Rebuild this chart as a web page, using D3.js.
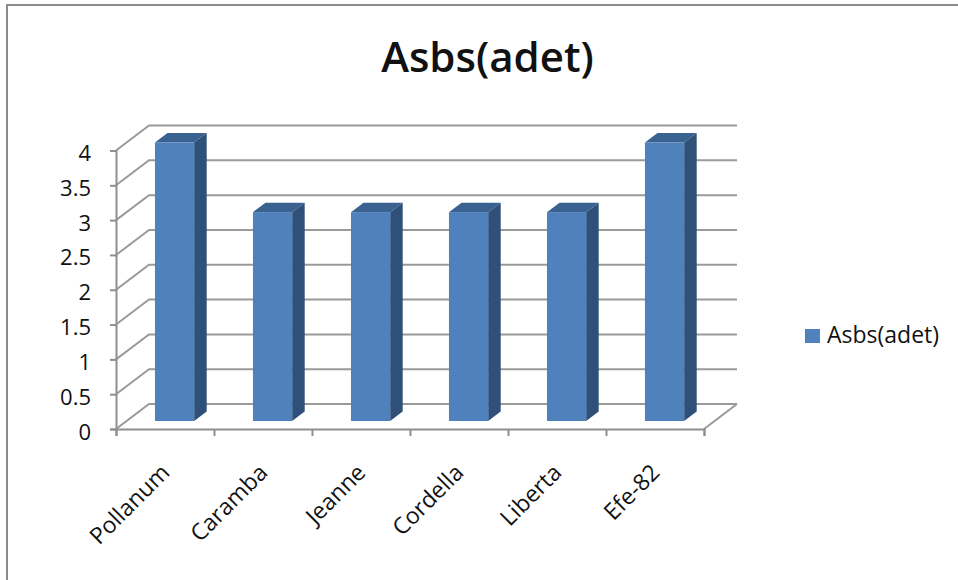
<!DOCTYPE html>
<html>
<head>
<meta charset="utf-8">
<style>
html,body{margin:0;padding:0;background:#fff;}
svg{display:block;}
text{font-family:"Open Sans",Lato,sans-serif;fill:#111;}
</style>
<script src="https://cdn.jsdelivr.net/npm/d3@7/dist/d3.min.js"></script>
</head>
<body>
<svg id="chart" width="958" height="580"></svg>
<script>
const chartTitle = "Asbs(adet)";
const seriesName = "Asbs(adet)";
const categories = ["Pollanum", "Caramba", "Jeanne", "Cordella", "Liberta", "Efe-82"];
const values = [4, 3, 3, 3, 3, 4];
const yTicks = [0, 0.5, 1, 1.5, 2, 2.5, 3, 3.5, 4];

const svg = d3.select("#chart");
const gridColor = "#9a9a9a";
const axisColor = "#8f8f8f";

// Category and value scales on the front plane of the 3D box
const x = d3.scaleBand().domain(categories).range([116, 704]);
const y = d3.scaleLinear().domain([0, 4]).range([429, 150.5]);
// Oblique projection: depth 0 is the front plane, depth 1 is the back wall
const depthX = d3.scaleLinear().domain([0, 1]).range([0, 33]);
const depthY = d3.scaleLinear().domain([0, 1]).range([0, -25]);
const project = (px, py, d) => [px + depthX(d), py + depthY(d)];
const path = pts => d3.line()(pts) + "Z";

// Outer chart frame
svg.append("path")
  .attr("d", "M7,580V5H958")
  .attr("fill", "none")
  .attr("stroke", "#8c8c8c")
  .attr("stroke-width", 2);

// Chart title
svg.append("text")
  .attr("x", 487.5).attr("y", 72)
  .attr("text-anchor", "middle")
  .attr("font-size", 42).attr("font-weight", 600)
  .text(chartTitle);

// Gridlines: slanted on the side wall, horizontal across the back wall
const walls = svg.append("g")
  .attr("fill", "none")
  .attr("stroke", gridColor)
  .attr("stroke-width", 2);
yTicks.forEach(t => {
  const [x0, x1] = x.range();
  walls.append("path").attr("d", d3.line()([
    project(x0, y(t), 0), project(x0, y(t), 1), project(x1, y(t), 1)
  ]));
});
// Floor edges
walls.append("path").attr("d", d3.line()([
  project(x.range()[1], y(0), 1), project(x.range()[1], y(0), 0)
]));

// Value axis
const yAxis = svg.append("g")
  .attr("transform", `translate(${x.range()[0]},0)`)
  .call(d3.axisLeft(y).tickValues(yTicks).tickSize(6).tickPadding(19).tickFormat(d3.format("~g")));
yAxis.select(".domain").attr("stroke", axisColor).attr("stroke-width", 2);
yAxis.selectAll(".tick line").attr("stroke", axisColor).attr("stroke-width", 2);
yAxis.selectAll(".tick text")
  .attr("font-size", 22)
  .attr("font-family", "'Open Sans',Lato,sans-serif")
  .attr("fill", "#111")
  .attr("y", 3);

// Category axis, with ticks on the category boundaries
const boundaries = categories.map(c => x(c)).concat(x.range()[1]);
const tickScale = d3.scaleLinear().domain(x.range()).range(x.range());
const xAxis = svg.append("g").attr("transform", `translate(0,${y(0)})`)
  .call(d3.axisBottom(tickScale).tickValues(boundaries).tickSize(7).tickFormat(""));
xAxis.select(".domain").attr("stroke", axisColor).attr("stroke-width", 2);
xAxis.selectAll(".tick line").attr("stroke", axisColor).attr("stroke-width", 2);

// Rotated category labels
svg.append("g").selectAll("text").data(categories).join("text")
  .attr("text-anchor", "end")
  .attr("font-size", 23)
  .attr("transform", d => `translate(${x(d) + x.bandwidth() / 2 + 6},${y(0) + 45}) rotate(-45)`)
  .text(d => d);

// Bars: three visible faces each
const frontDepth = 0.32, backDepth = 0.70, faceInset = 0.3;
const barGroups = svg.append("g").selectAll("g").data(categories).join("g");
barGroups.each(function (c, i) {
  const g = d3.select(this);
  const left = x(c) + x.bandwidth() * faceInset - 1;
  const right = x(c) + x.bandwidth() * (1 - faceInset) - 1;
  const base = y(0), top = y(values[i]);
  const f = (px, py) => project(px, py, frontDepth);
  const b = (px, py) => project(px, py, backDepth);
  g.append("path").attr("d", path([f(left, top), b(left, top), b(right, top), f(right, top)]))
    .attr("fill", "#3a6290");
  g.append("path").attr("d", path([f(right, base), f(right, top), b(right, top), b(right, base)]))
    .attr("fill", "#2f5179");
  const [fx0, fy0] = f(left, top);
  const [fx1, fy1] = f(right, base);
  g.append("rect").attr("x", fx0).attr("y", fy0).attr("width", fx1 - fx0).attr("height", fy1 - fy0)
    .attr("fill", "#4f81bd");
});

// Legend
const legend = svg.append("g").attr("transform", "translate(805,329)");
legend.append("rect").attr("width", 15).attr("height", 14).attr("fill", "#4f81bd");
legend.append("text").attr("x", 22).attr("y", 14).attr("font-size", 23).text(seriesName);
</script>
</body>
</html>
